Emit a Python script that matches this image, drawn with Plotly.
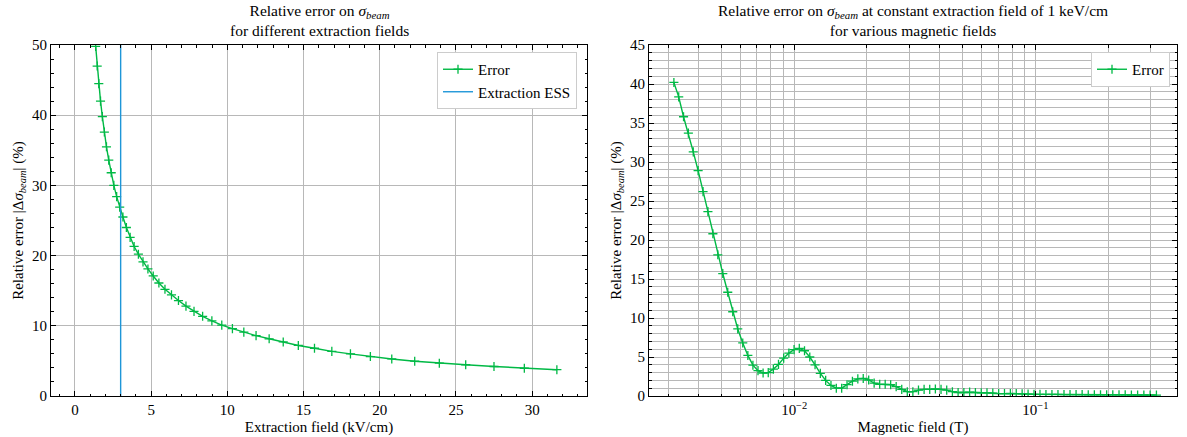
import plotly.graph_objects as go

# ---------------- data ----------------
# Left panel: relative error vs extraction field
ext_field = [1.361, 1.460, 1.565, 1.679, 1.800, 1.931, 2.070, 2.220, 2.381, 2.553,
             2.738, 2.937, 3.149, 3.377, 3.622, 3.884, 4.165, 4.467, 4.790, 5.137,
             5.509, 5.908, 6.336, 6.794, 7.286, 7.814, 8.379, 8.986, 9.636, 10.334,
             11.082, 11.885, 12.745, 13.668, 14.658, 15.719, 16.857, 18.078, 19.386, 20.790,
             22.295, 23.910, 25.641, 27.497, 29.488, 31.623]
ext_error = [49.8, 47.0, 44.5, 42.0, 39.8, 37.6, 35.5, 33.6, 31.8, 30.0,
             28.4, 26.9, 25.5, 24.0, 22.6, 21.3, 20.2, 19.1, 18.1, 17.1,
             16.1, 15.2, 14.4, 13.6, 12.8, 12.05, 11.35, 10.7, 10.1, 9.6,
             9.1, 8.6, 8.15, 7.7, 7.2, 6.8, 6.35, 6.0, 5.62, 5.28,
             4.96, 4.67, 4.45, 4.2, 3.95, 3.75]
ess_field = 3.0

# Right panel: relative error vs magnetic field
mag_field = [0.003171, 0.003320, 0.003477, 0.003641, 0.003815, 0.003996, 0.004188, 0.004388,
             0.004601, 0.004823, 0.005057, 0.005302, 0.005561, 0.005834, 0.006119, 0.006424,
             0.006743, 0.007078, 0.007431, 0.007805, 0.008196, 0.008608, 0.009044, 0.009504,
             0.009986, 0.010498, 0.011035, 0.011603, 0.012201, 0.012832, 0.013502, 0.014204,
             0.014948, 0.015733, 0.016558, 0.017434, 0.018356, 0.019328, 0.020360, 0.021448,
             0.022616, 0.023835, 0.025113, 0.026472, 0.027913, 0.029437, 0.031046, 0.032751,
             0.034557, 0.036464, 0.038480, 0.040617, 0.042879, 0.045272, 0.047809, 0.050506,
             0.053367, 0.056389, 0.059621, 0.062981, 0.066587, 0.070405, 0.074438, 0.078742,
             0.083272, 0.088105, 0.093239, 0.098673, 0.10447, 0.11058, 0.11710, 0.12403,
             0.13137, 0.13915, 0.14742, 0.15622, 0.16560, 0.17554, 0.18617, 0.19740,
             0.20934, 0.22211, 0.23563, 0.24998, 0.26530, 0.28157, 0.29893, 0.31746]
mag_error = [40.2, 38.35, 35.8, 33.7, 31.3, 28.9, 26.2, 23.65, 20.8, 18.1,
             15.7, 13.3, 10.8, 8.6, 6.8, 5.2, 3.95, 3.25, 2.95, 3.0,
             3.45, 4.05, 4.85, 5.5, 5.95, 6.1, 5.8, 5.0, 4.0, 2.9,
             2.0, 1.35, 1.0, 1.0, 1.45, 1.9, 2.2, 2.25, 2.05, 1.65,
             1.5, 1.5, 1.45, 1.2, 0.85, 0.55, 0.55, 0.75, 0.85, 0.85,
             0.9, 0.85, 0.75, 0.55, 0.45, 0.45, 0.5, 0.45, 0.4, 0.4,
             0.38, 0.3, 0.3, 0.32, 0.3, 0.28, 0.25, 0.22, 0.22, 0.2,
             0.2, 0.2, 0.18, 0.18, 0.17, 0.17, 0.16, 0.16, 0.15, 0.15,
             0.15, 0.14, 0.14, 0.13, 0.13, 0.13, 0.12, 0.12]

left_xticks = [0, 5, 10, 15, 20, 25, 30]
left_yticks = [0, 10, 20, 30, 40, 50]
right_yticks = [0, 5, 10, 15, 20, 25, 30, 35, 40, 45]
right_xticks = [0.01, 0.1]
right_xticktext = ["10<sup>−2</sup>", "10<sup>−1</sup>"]
right_xminor = [m * 10.0 ** d for d in (-3, -2, -1) for m in range(2, 10)]

GREEN = "#00B945"
BLUE = "#1E96D8"
GRID = "#b8b8b8"
FONT = "Liberation Serif"
FS = 15
FS_T = 15.5

W, H = 1187, 437
fig = go.Figure()

mk = dict(symbol="cross-thin", size=6.5, line=dict(width=1.3, color=GREEN))
fig.add_trace(go.Scatter(
    x=ext_field, y=ext_error, mode="lines+markers", name="Error",
    line=dict(color=GREEN, width=1.4), marker=mk,
    xaxis="x", yaxis="y", legend="legend"))
fig.add_trace(go.Scatter(
    x=[ess_field, ess_field], y=[0, 50], mode="lines", name="Extraction ESS",
    line=dict(color=BLUE, width=1.4), xaxis="x", yaxis="y", legend="legend"))
fig.add_trace(go.Scatter(
    x=mag_field, y=mag_error, mode="lines+markers", name="Error",
    line=dict(color=GREEN, width=1.4), marker=mk,
    xaxis="x2", yaxis="y2", legend="legend2"))

ax_common = dict(showline=True, linecolor="black", linewidth=1, mirror="ticks",
                 ticks="inside", ticklen=5, tickcolor="black", tickwidth=1,
                 zeroline=False, showgrid=True, gridcolor=GRID, gridwidth=1,
                 automargin=False,
                 tickfont=dict(family=FONT, size=FS, color="black"))

ytitle = "Relative error |Δ<i>σ</i><sub><i>beam</i></sub>| (%)"
y_dom = [1 - 396 / H, 1 - 45 / H]
fig.update_layout(
    width=W, height=H, margin=dict(l=0, r=0, t=0, b=0, autoexpand=False),
    paper_bgcolor="white", plot_bgcolor="white",
    font=dict(family=FONT, size=FS, color="black"),
    xaxis=dict(domain=[51 / W, 587 / W], range=[-1.57, 33.6], anchor="y",
               tickvals=left_xticks,
               minor=dict(dtick=1, ticks="inside", ticklen=2.5, tickcolor="black", showgrid=False),
               title=dict(text="Extraction field (kV/cm)", standoff=4,
                          font=dict(family=FONT, size=FS)),
               **ax_common),
    yaxis=dict(domain=y_dom, range=[0, 50], anchor="x", tickvals=left_yticks,
               minor=dict(dtick=2, ticks="inside", ticklen=2.5, tickcolor="black", showgrid=False),
               title=dict(text=ytitle, standoff=4, font=dict(family=FONT, size=FS)),
               **ax_common),
    xaxis2=dict(domain=[649 / W, 1177 / W], type="log", range=[-2.602, -0.413], anchor="y2",
                tickvals=right_xticks, ticktext=right_xticktext,
                minor=dict(tickmode="array", tickvals=right_xminor, ticks="inside", ticklen=2.5,
                           tickcolor="black", showgrid=True, gridcolor=GRID, gridwidth=1),
                title=dict(text="Magnetic field (T)", standoff=4, font=dict(family=FONT, size=FS)),
                **ax_common),
    yaxis2=dict(domain=y_dom, range=[0, 45], anchor="x2", tickvals=right_yticks,
                minor=dict(dtick=1, ticks="inside", ticklen=2.5, tickcolor="black",
                           showgrid=True, gridcolor=GRID, gridwidth=1),
                title=dict(text=ytitle, standoff=4, font=dict(family=FONT, size=FS)),
                **ax_common),
    legend=dict(x=577 / W, y=1 - 52 / H, xanchor="right", yanchor="top",
                bgcolor="white", bordercolor="#cccccc", borderwidth=1,
                font=dict(family=FONT, size=FS), tracegroupgap=0),
    legend2=dict(x=1170 / W, y=1 - 52 / H, xanchor="right", yanchor="top",
                 bgcolor="white", bordercolor="#cccccc", borderwidth=1,
                 font=dict(family=FONT, size=FS)),
    showlegend=True,
)

fig.add_annotation(
    text="Relative error on <i>σ</i><sub><i>beam</i></sub><br>for different extraction fields",
    x=(51 + 587) / 2 / W, y=1 - 41 / H, xref="paper", yref="paper",
    xanchor="center", yanchor="bottom", showarrow=False,
    font=dict(family=FONT, size=FS_T))
fig.add_annotation(
    text="Relative error on <i>σ</i><sub><i>beam</i></sub> at constant extraction field of 1 keV/cm<br>for various magnetic fields",
    x=(649 + 1177) / 2 / W, y=1 - 41 / H, xref="paper", yref="paper",
    xanchor="center", yanchor="bottom", showarrow=False,
    font=dict(family=FONT, size=FS_T))

fig.write_html("out.html", config={"displayModeBar": False},
               post_script="document.body.style.margin='0';document.body.style.padding='0';")
